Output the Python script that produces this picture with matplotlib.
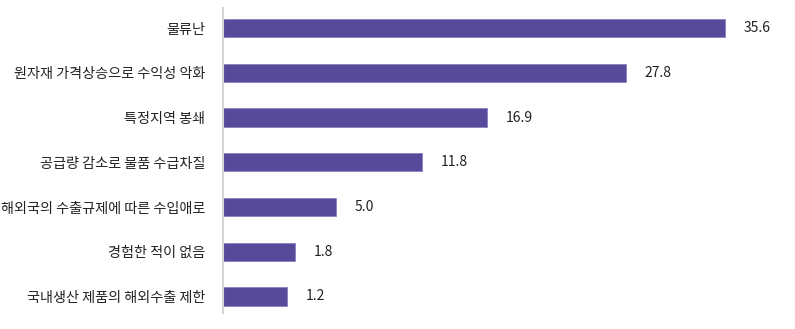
import numpy as np
import matplotlib.pyplot as plt

plt.rcParams['font.family'] = ['Noto Sans CJK KR', 'DejaVu Sans']

# 공급망 차질 유형별 응답 비율 (%)
categories = [
    '물류난',
    '원자재 가격상승으로 수익성 악화',
    '특정지역 봉쇄',
    '공급량 감소로 물품 수급차질',
    '해외국의 수출규제에 따른 수입애로',
    '경험한 적이 없음',
    '국내생산 제품의 해외수출 제한',
]
values = [35.6, 27.8, 16.9, 11.8, 5.0, 1.8, 1.2]

bar_color = '#584a9b'
base = -3.85  # 막대 시작점(축 왼쪽 끝)

fig = plt.figure(figsize=(7.95, 3.29), dpi=100)
ax = fig.add_axes([0.2805, 0.0486, 0.7015, 0.9271])

y = np.arange(len(categories))
vals = np.array(values)
ax.barh(y, vals - base, left=base, height=0.41, color=bar_color,
        edgecolor='#8a7fc0', linewidth=0.6)

for yi, v in zip(y, values):
    ax.annotate(f'{v:.1f}', xy=(v, yi), xytext=(13.5, 0), textcoords='offset points',
                va='center', ha='left', fontsize=10, color='#222222')

ax.set_xlim(base, 40)
ax.set_ylim(len(categories) - 1 + 0.37, -0.45)
ax.set_yticks(y)
ax.set_yticklabels(categories, fontsize=10.2, color='#222222')
ax.tick_params(axis='y', length=0, pad=13)
ax.set_xticks([])

for side in ['top', 'right', 'bottom']:
    ax.spines[side].set_visible(False)
ax.spines['left'].set_color('#d4d4d4')
ax.spines['left'].set_linewidth(1.5)

fig.savefig('out.png', dpi=100)
